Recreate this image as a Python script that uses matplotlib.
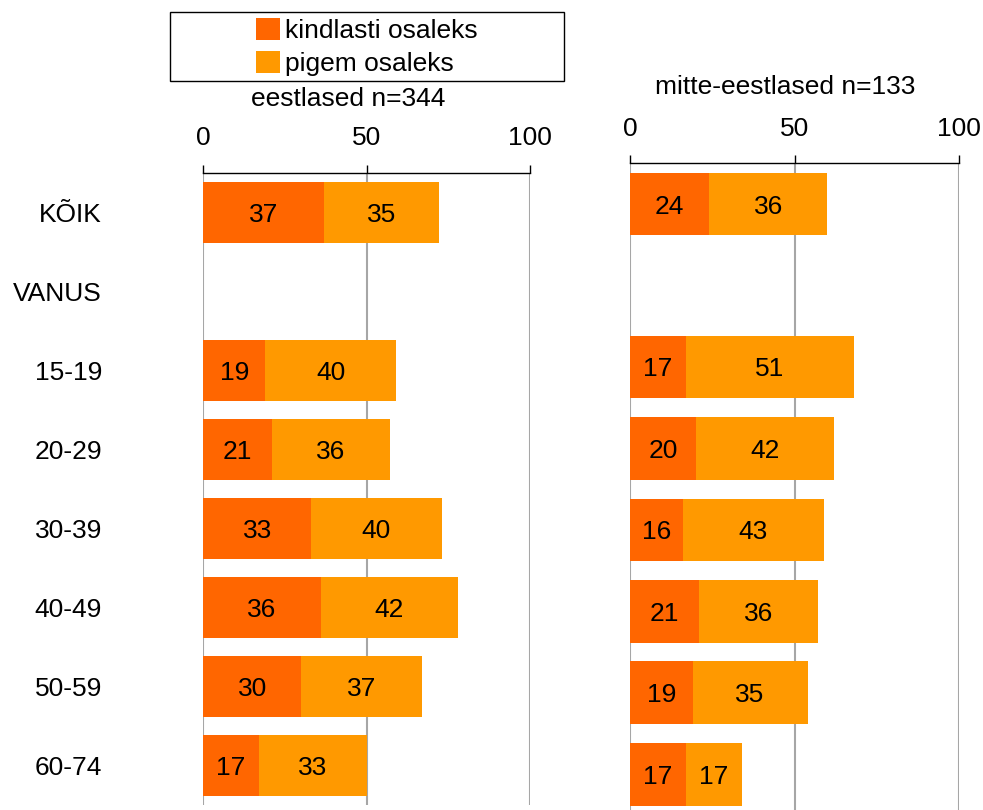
import matplotlib
matplotlib.use('Agg')
import matplotlib.pyplot as plt
import numpy as np
from matplotlib.patches import Rectangle

plt.rcParams['font.family'] = ['Liberation Sans', 'DejaVu Sans']
plt.rcParams['font.size'] = 19

# andmed
kategooriad = ['KÕIK', 'VANUS', '15-19', '20-29', '30-39', '40-49', '50-59', '60-74']
eesti_kindlasti = [37, np.nan, 19, 21, 33, 36, 30, 17]
eesti_pigem = [35, np.nan, 40, 36, 40, 42, 37, 33]
mitte_kindlasti = [24, np.nan, 17, 20, 16, 21, 19, 17]
mitte_pigem = [36, np.nan, 51, 42, 43, 36, 35, 17]
pealkirjad = ['eestlased n=344', 'mitte-eestlased n=133']
seeria_nimed = ['kindlasti osaleks', 'pigem osaleks']
x_tickid = [0, 50, 100]

tume = '#FF6600'
hele = '#FF9900'
hall = '#A6A6A6'

W, H = 983, 810
fig = plt.figure(figsize=(W / 100, H / 100), dpi=100)

def px_axes(x0, x1, ytop, ybot):
    return fig.add_axes([x0 / W, 1 - ybot / H, (x1 - x0) / W, (ybot - ytop) / H])

ax1 = px_axes(203.3, 530, 172.7, 804.7)
ax2 = px_axes(630, 959, 163.3, 815)

def joonista(ax, kindlasti, pigem, sildid):
    y = np.arange(len(kategooriad))
    k = np.array(kindlasti, dtype=float)
    p = np.array(pigem, dtype=float)
    b1 = ax.barh(y, k, height=0.77, color=tume, zorder=3)
    b2 = ax.barh(y, p, left=k, height=0.77, color=hele, zorder=3)
    for i in range(len(y)):
        if not np.isnan(k[i]):
            ax.text(k[i] / 2, y[i], '%d' % k[i], ha='center', va='center_baseline', zorder=4)
            ax.text(k[i] + p[i] / 2, y[i], '%d' % p[i], ha='center', va='center_baseline', zorder=4)
    ax.set_xlim(0, 100)
    ax.set_ylim(len(y) - 0.5, -0.5)
    ax.set_xticks(x_tickid)
    ax.xaxis.tick_top()
    ax.tick_params(axis='x', direction='out', length=6, width=1, pad=10, colors='black')
    for xv in x_tickid:
        ax.axvline(xv, color=hall, lw=1.5, zorder=1)
    for s in ['left', 'right', 'bottom']:
        ax.spines[s].set_visible(False)
    ax.spines['top'].set_linewidth(1)
    ax.set_yticks(y)
    if sildid:
        ax.set_yticklabels(kategooriad)
        ax.tick_params(axis='y', length=0, pad=73)
        for t in ax.get_yticklabels():
            t.set_va('center_baseline')
    else:
        ax.set_yticklabels([])
        ax.tick_params(axis='y', length=0)
    return b1, b2

b1, b2 = joonista(ax1, eesti_kindlasti, eesti_pigem, True)
joonista(ax2, mitte_kindlasti, mitte_pigem, False)

fig.text(348 / W, 1 - 97 / H, pealkirjad[0], ha='center', va='center_baseline')
fig.text(785 / W, 1 - 85 / H, pealkirjad[1], ha='center', va='center_baseline')

# legendi kast
fig.patches.append(Rectangle((170 / W, 1 - 80.7 / H), 394 / W, 69 / H,
                             transform=fig.transFigure, fill=False,
                             edgecolor='black', lw=1))
fig.legend([b1, b2], seeria_nimed, loc='center', bbox_to_anchor=(367 / W, 1 - 47 / H),
           frameon=False, handlelength=0.9, handleheight=0.9, handletextpad=0.2,
           labelspacing=0.3, borderpad=0)

fig.savefig('out.png', dpi=100)
